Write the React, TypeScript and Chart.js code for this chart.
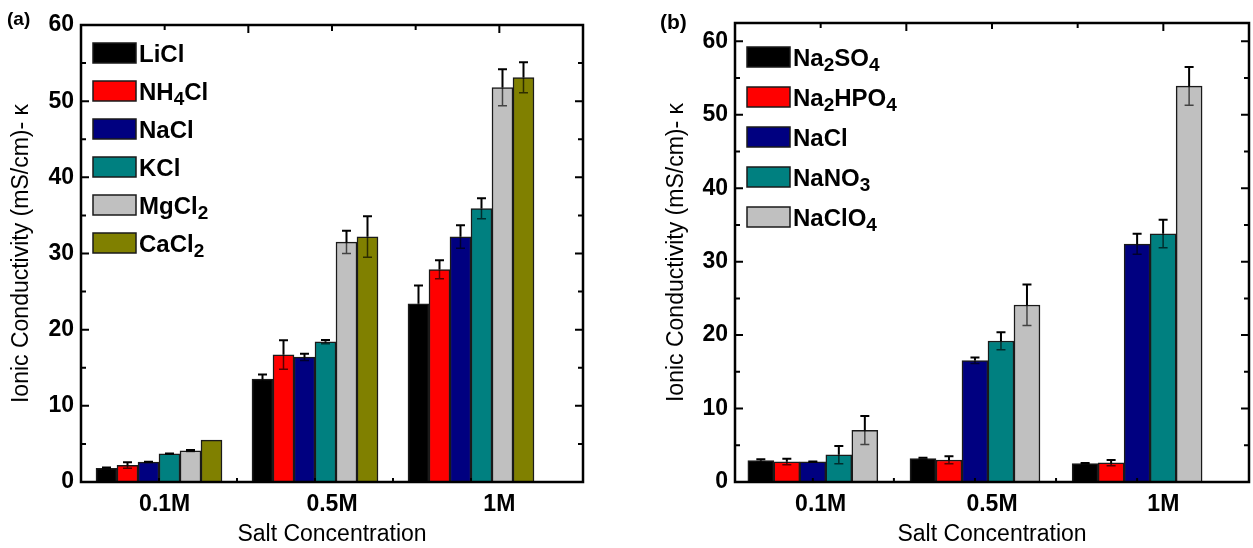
import React, { useEffect, useRef } from 'react';
import { Chart, registerables } from 'chart.js';

Chart.register(...registerables);

const FONT = "'Liberation Sans', Arial, sans-serif";

// ---------- data ----------
const categories = ['0.1M', '0.5M', '1M'];
const yTitle = 'Ionic Conductivity (mS/cm)- κ';
const xTitle = 'Salt Concentration';

// panel (a)
const saltsA = ['LiCl', 'NH₄Cl', 'NaCl', 'KCl', 'MgCl₂', 'CaCl₂'];
const colorsA = ['#000000', '#ff0000', '#000080', '#008080', '#c0c0c0', '#808000'];
const liclVals = [1.8, 13.5, 23.4];
const liclErr = [0.1, 0.6, 2.4];
const nh4clVals = [2.2, 16.7, 27.9];
const nh4clErr = [0.4, 1.9, 1.2];
const naclAVals = [2.6, 16.4, 32.2];
const naclAErr = [0.05, 0.45, 1.5];
const kclVals = [3.7, 18.4, 35.9];
const kclErr = [0.05, 0.25, 1.35];
const mgcl2Vals = [4.1, 31.5, 51.8];
const mgcl2Err = [0.1, 1.5, 2.4];
const cacl2Vals = [5.5, 32.2, 53.1];
const cacl2Err = [0, 2.7, 2.0];

// panel (b)
const saltsB = ['Na₂SO₄', 'Na₂HPO₄', 'NaCl', 'NaNO₃', 'NaClO₄'];
const colorsB = ['#000000', '#ff0000', '#000080', '#008080', '#c0c0c0'];
const na2so4Vals = [2.9, 3.2, 2.5];
const na2so4Err = [0.2, 0.1, 0.1];
const na2hpo4Vals = [2.75, 3.0, 2.6];
const na2hpo4Err = [0.4, 0.5, 0.4];
const naclBVals = [2.75, 16.55, 32.4];
const naclBErr = [0.05, 0.4, 1.4];
const nano3Vals = [3.7, 19.2, 33.8];
const nano3Err = [1.2, 1.2, 1.9];
const naclo4Vals = [7.05, 24.1, 53.9];
const naclo4Err = [1.95, 2.8, 2.6];

const yTicksMajor = 10;
const yTicksMinor = 5;

// ---------- helpers ----------
const SUBS = '₀₁₂₃₄₅₆₇₈₉';
function drawRich(ctx: CanvasRenderingContext2D, text: string, x: number, y: number, size: number) {
  let cx = x;
  for (const ch of text) {
    const s = SUBS.indexOf(ch);
    if (s >= 0) {
      ctx.font = `bold ${Math.round(size * 0.8)}px ${FONT}`;
      const d = String(s);
      ctx.fillText(d, cx, y + size * 0.3);
      cx += ctx.measureText(d).width;
    } else {
      ctx.font = `bold ${size}px ${FONT}`;
      ctx.fillText(ch, cx, y);
      cx += ctx.measureText(ch).width;
    }
  }
}

type Panel = {
  names: string[];
  colors: string[];
  values: number[][];
  errors: number[][];
  yMax: number;
  xMin: number;
  xMax: number;
  barThickness: number;
  yAxisWidth: number;
  padRight: number;
  padTop: number;
  yTitlePad: number;
  legFirst: number;
  legGap: number;
  tag: string;
  tagX: number;
  tagY: number;
  tagSize: number;
};

const panelA: Panel = {
  names: saltsA,
  colors: colorsA,
  values: [liclVals, nh4clVals, naclAVals, kclVals, mgcl2Vals, cacl2Vals],
  errors: [liclErr, nh4clErr, naclAErr, kclErr, mgcl2Err, cacl2Err],
  yMax: 60,
  xMin: -0.5,
  xMax: 2.718,
  barThickness: 21,
  yAxisWidth: 81,
  padRight: 47,
  padTop: 25,
  yTitlePad: 8,
  legFirst: 28,
  legGap: 38,
  tag: '(a)',
  tagX: 7,
  tagY: 10,
  tagSize: 19,
};

const panelB: Panel = {
  names: saltsB,
  colors: colorsB,
  values: [na2so4Vals, na2hpo4Vals, naclBVals, nano3Vals, naclo4Vals],
  errors: [na2so4Err, na2hpo4Err, naclBErr, nano3Err, naclo4Err],
  yMax: 62.5,
  xMin: -0.48,
  xMax: 2.69,
  barThickness: 26,
  yAxisWidth: 105,
  padRight: 4,
  padTop: 23,
  yTitlePad: 33,
  legFirst: 34,
  legGap: 40,
  tag: '(b)',
  tagX: 30,
  tagY: 13,
  tagSize: 21,
};

function buildConfig(p: Panel): any {
  const datasets = p.names.map((name, d) => ({
    label: name,
    data: p.values[d].map((v, i) => ({ x: i, y: v })),
    backgroundColor: p.colors[d],
    borderColor: '#1a1a1a',
    borderWidth: 1.5,
    xAxisID: 'xb',
    yAxisID: 'y',
    barThickness: p.barThickness,
  }));

  const decor = {
    id: 'decor',
    afterDatasetsDraw(chart: any) {
      const ctx: CanvasRenderingContext2D = chart.ctx;
      const ys = chart.scales.y;
      ctx.save();
      chart.data.datasets.forEach((_: any, d: number) => {
        const meta = chart.getDatasetMeta(d);
        meta.data.forEach((el: any, i: number) => {
          const v = p.values[d][i];
          const e = p.errors[d][i];
          if (!e) return;
          const x = el.x;
          const y0 = el.y;
          const yt = ys.getPixelForValue(v + e);
          const yb = ys.getPixelForValue(v - e);
          ctx.strokeStyle = 'rgba(0,0,0,0.65)';
          ctx.lineWidth = 1.5;
          ctx.beginPath();
          ctx.moveTo(x, y0);
          ctx.lineTo(x, yb);
          ctx.moveTo(x - 4.5, yb);
          ctx.lineTo(x + 4.5, yb);
          ctx.stroke();
          ctx.strokeStyle = '#000';
          ctx.lineWidth = 2;
          ctx.beginPath();
          ctx.moveTo(x, y0);
          ctx.lineTo(x, yt);
          ctx.moveTo(x - 4.5, yt);
          ctx.lineTo(x + 4.5, yt);
          ctx.stroke();
        });
      });
      ctx.restore();
    },
    afterDraw(chart: any) {
      const ctx: CanvasRenderingContext2D = chart.ctx;
      const { left, right, top, bottom } = chart.chartArea;
      const ys = chart.scales.y;
      const xs = chart.scales.x;
      const xb = chart.scales.xb;
      ctx.save();
      ctx.strokeStyle = '#000';
      ctx.lineCap = 'butt';
      ctx.lineWidth = 2;
      ctx.beginPath();
      for (let v = 0; v <= p.yMax + 1e-6; v += yTicksMinor) {
        const py = ys.getPixelForValue(v);
        const len = v % yTicksMajor === 0 ? 8 : 5;
        ctx.moveTo(left, py);
        ctx.lineTo(left + len, py);
        ctx.moveTo(right, py);
        ctx.lineTo(right - len, py);
      }
      const n = categories.length;
      const topPos: number[] = [];
      for (let i = 0; i < n; i++) {
        topPos.push(xs.getPixelForValue(i));
        if (i < n - 1) topPos.push((xs.getPixelForValue(i) + xs.getPixelForValue(i + 1)) / 2);
      }
      const topLens = [5, 8, 6, 5, 8];
      topPos.forEach((px, k) => {
        ctx.moveTo(px, top);
        ctx.lineTo(px, top + topLens[k % topLens.length]);
      });
      for (let k = 0; k <= 2 * (n - 1); k++) {
        const px = xb.getPixelForValue(k * 0.5);
        ctx.moveTo(px, bottom);
        ctx.lineTo(px, bottom - 4);
      }
      ctx.stroke();
      ctx.lineWidth = 2.5;
      ctx.strokeRect(left, top, right - left, bottom - top);

      ctx.textBaseline = 'middle';
      ctx.textAlign = 'left';
      p.names.forEach((name, d) => {
        const cy = top + p.legFirst + d * p.legGap;
        const bx = left + 12;
        ctx.fillStyle = p.colors[d];
        ctx.fillRect(bx, cy - 10, 43, 20);
        ctx.strokeStyle = '#1a1a1a';
        ctx.lineWidth = 1.5;
        ctx.strokeRect(bx, cy - 10, 43, 20);
        ctx.fillStyle = '#000';
        drawRich(ctx, name, bx + 46, cy + 2, 24);
      });

      ctx.font = `bold ${p.tagSize}px ${FONT}`;
      ctx.textBaseline = 'top';
      ctx.fillStyle = '#000';
      ctx.fillText(p.tag, p.tagX, p.tagY);
      ctx.restore();
    },
  };

  return {
    type: 'bar',
    data: { labels: categories, datasets },
    options: {
      responsive: false,
      animation: false,
      layout: { padding: { left: 0, right: p.padRight, top: p.padTop, bottom: 0 } },
      plugins: { legend: { display: false }, tooltip: { enabled: false } },
      scales: {
        xb: {
          type: 'linear',
          display: false,
          min: p.xMin,
          max: p.xMax,
          offset: false,
        },
        x: {
          type: 'category',
          position: 'bottom',
          offset: true,
          grid: { display: false, drawTicks: false },
          border: { display: false },
          ticks: {
            font: { size: 23, weight: 'bold', family: FONT },
            color: '#000',
            padding: 9,
            maxRotation: 0,
            autoSkip: false,
          },
          title: {
            display: true,
            text: xTitle,
            font: { size: 23, family: FONT },
            color: '#000',
            padding: { top: 0, bottom: 0 },
          },
          afterFit: (s: any) => {
            s.height = 66;
          },
        },
        y: {
          type: 'linear',
          position: 'left',
          min: 0,
          max: p.yMax,
          grid: { display: false, drawTicks: false },
          border: { display: false },
          ticks: {
            stepSize: yTicksMajor,
            includeBounds: false,
            font: { size: 23, weight: 'bold', family: FONT },
            color: '#000',
            padding: 7,
          },
          title: {
            display: true,
            text: yTitle,
            font: { size: 23, family: FONT },
            color: '#000',
            padding: { top: p.yTitlePad, bottom: 0 },
          },
          afterFit: (s: any) => {
            s.width = p.yAxisWidth;
          },
        },
      },
    },
    plugins: [decor],
  };
}

function PanelChart({ panel, left, width }: { panel: Panel; left: number; width: number }) {
  const ref = useRef<HTMLCanvasElement>(null);
  useEffect(() => {
    const chart = new Chart(ref.current as HTMLCanvasElement, buildConfig(panel));
    return () => chart.destroy();
  }, [panel]);
  return (
    <canvas
      ref={ref}
      width={width}
      height={548}
      style={{ position: 'absolute', left, top: 0, width, height: 548 }}
    />
  );
}

export default function App() {
  return (
    <div
      style={{
        position: 'fixed',
        left: 0,
        top: 0,
        width: 1253,
        height: 548,
        background: '#fff',
        overflow: 'hidden',
      }}
    >
      <PanelChart panel={panelA} left={0} width={630} />
      <PanelChart panel={panelB} left={630} width={623} />
    </div>
  );
}
